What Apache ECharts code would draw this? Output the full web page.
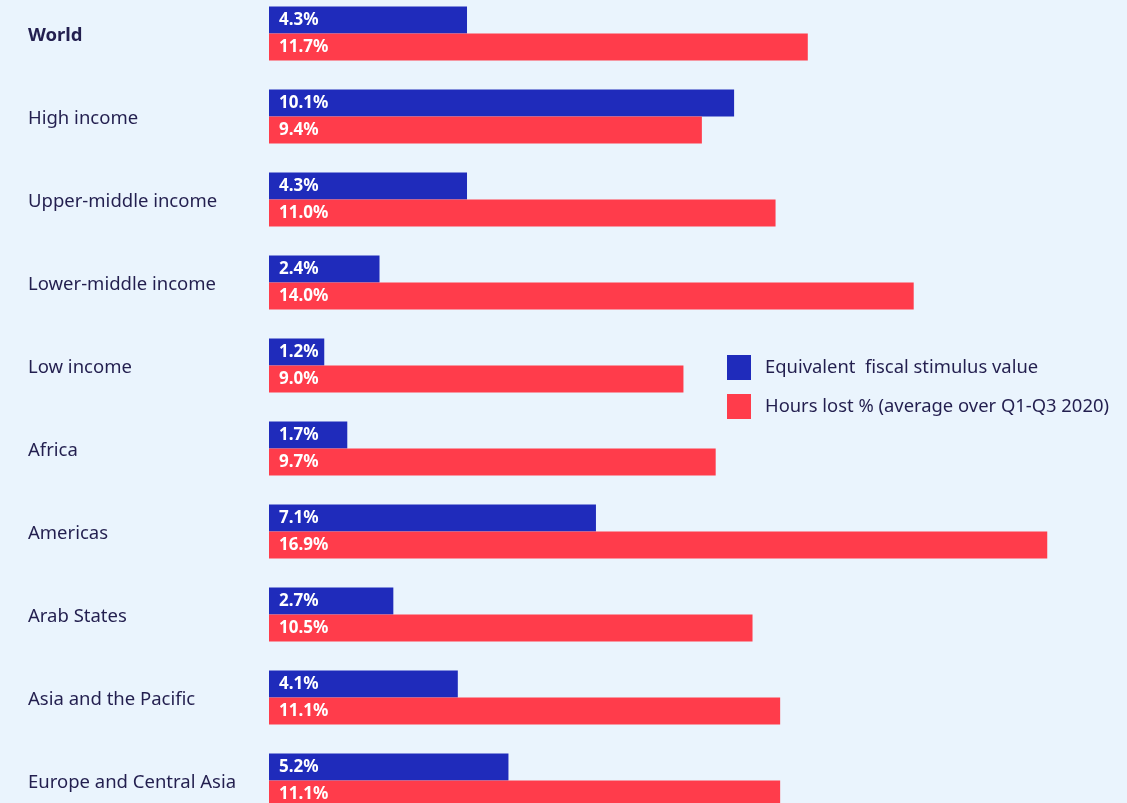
<!DOCTYPE html>
<html><head><meta charset="utf-8">
<script src="https://cdn.jsdelivr.net/npm/echarts@6/dist/echarts.min.js"></script>
<style>html,body{margin:0;padding:0;background:#eaf4fd;}#c{width:1127px;height:803px;}</style>
</head><body><div id="c"></div>
<script>
const categories = ['World','High income','Upper-middle income','Lower-middle income','Low income','Africa','Americas','Arab States','Asia and the Pacific','Europe and Central Asia'];
const stimulus = [4.3,10.1,4.3,2.4,1.2,1.7,7.1,2.7,4.1,5.2];
const hoursLost = [11.7,9.4,11.0,14.0,9.0,9.7,16.9,10.5,11.1,11.1];
const seriesNames = ['Equivalent  fiscal stimulus value','Hours lost % (average over Q1-Q3 2020)'];
const font = '"Noto Sans", "Open Sans", sans-serif';
const chart = echarts.init(document.getElementById('c'));
const lbl = {show:true, position:'insideLeft', distance:10, color:'#fff', fontWeight:'bold', fontSize:17, fontFamily:font, formatter: p => p.value.toFixed(1)+'%'};
chart.setOption({
  backgroundColor:'#eaf4fd',
  animation:false,
  legend:{orient:'vertical', left:722, top:350, itemWidth:24, itemHeight:25, itemGap:14, icon:'rect',
    textStyle:{fontSize:18.4, color:'#231f4f', fontFamily:font, padding:[0,0,0,9]},
    data:seriesNames},
  grid:{left:269, top:-8, height:830, width:921, outerBoundsMode:'none', containLabel:false},
  xAxis:{type:'value', min:0, max:20, show:false},
  yAxis:{type:'category', inverse:true, data:categories,
    axisLine:{show:false}, axisTick:{show:false},
    axisLabel:{align:'left', margin:241, fontSize:18.5, color:'#231f4f', fontFamily:font, padding:[4,0,0,0],
      formatter:(v,i)=> i===0 ? '{b|'+v+'}' : v,
      rich:{b:{fontWeight:'bold', fontSize:18.5, color:'#231f4f', fontFamily:font}}}},
  series:[
    {name:seriesNames[0], type:'bar', data:stimulus, barWidth:27, barGap:'0%', itemStyle:{color:'#1f2bbb'}, label:lbl},
    {name:seriesNames[1], type:'bar', data:hoursLost, barWidth:27, itemStyle:{color:'#ff3c4b'}, label:lbl}
  ]
});
</script></body></html>
